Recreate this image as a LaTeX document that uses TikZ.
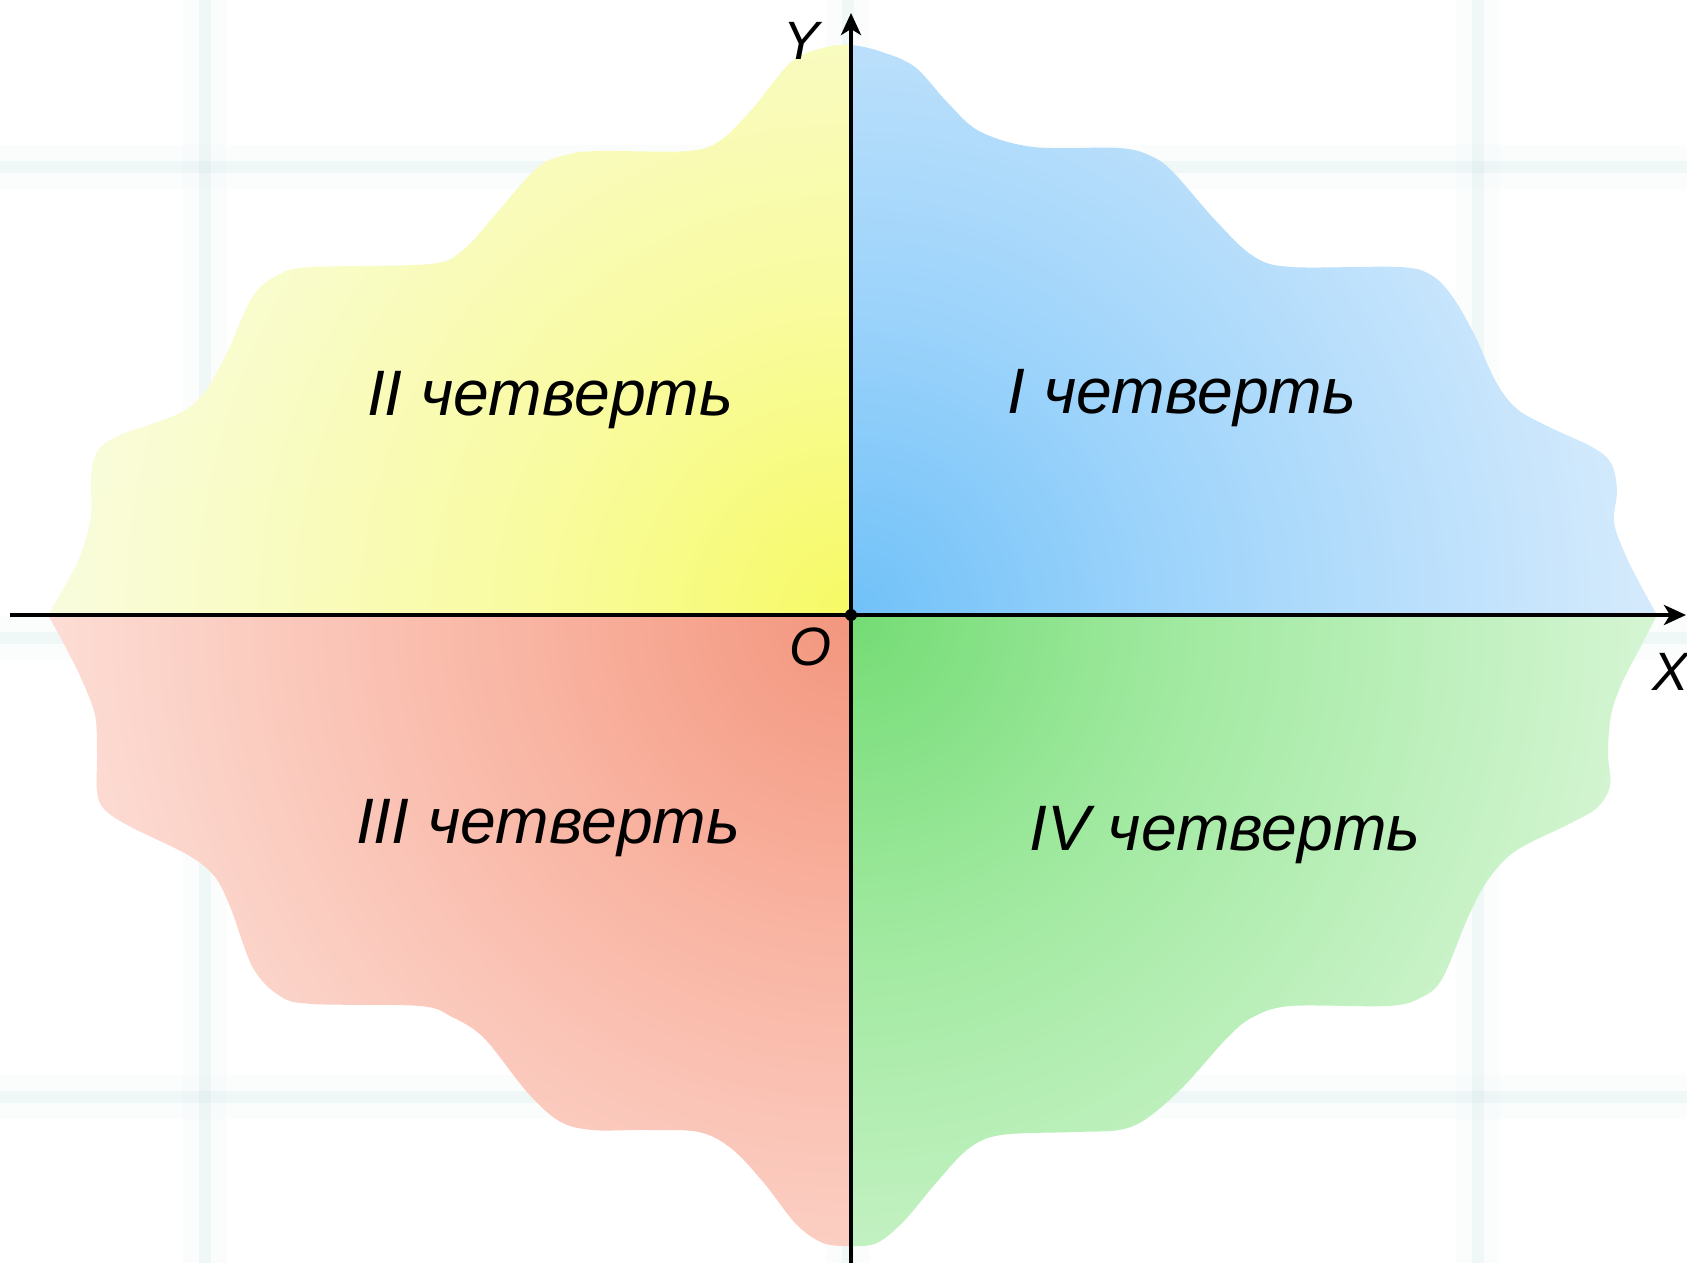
\documentclass[tikz,border=0pt]{standalone}
\usepackage{fontspec}
\setmainfont{Liberation Sans}
\usetikzlibrary{arrows.meta}
\definecolor{bIn}{RGB}{112,193,248}
\definecolor{bMid}{RGB}{158,212,251}
\definecolor{bOut}{RGB}{212,234,252}
\definecolor{yIn}{RGB}{246,250,100}
\definecolor{yMid}{RGB}{249,251,160}
\definecolor{yOut}{RGB}{249,252,220}
\definecolor{rIn}{RGB}{243,150,126}
\definecolor{rMid}{RGB}{249,180,162}
\definecolor{rOut}{RGB}{252,220,212}
\definecolor{gIn}{RGB}{116,220,116}
\definecolor{gMid}{RGB}{160,233,160}
\definecolor{gOut}{RGB}{212,245,210}
\definecolor{gridc}{RGB}{205,228,230}
\pgfdeclareradialshading{qI}{\pgfpoint{0bp}{0bp}}{color(0bp)=(bIn); color(9bp)=(bMid); color(22bp)=(bOut); color(50bp)=(bOut)}
\pgfdeclareradialshading{qII}{\pgfpoint{0bp}{0bp}}{color(0bp)=(yIn); color(9bp)=(yMid); color(22bp)=(yOut); color(50bp)=(yOut)}
\pgfdeclareradialshading{qIII}{\pgfpoint{0bp}{0bp}}{color(0bp)=(rIn); color(9bp)=(rMid); color(22bp)=(rOut); color(50bp)=(rOut)}
\pgfdeclareradialshading{qIV}{\pgfpoint{0bp}{0bp}}{color(0bp)=(gIn); color(9bp)=(gMid); color(22bp)=(gOut); color(50bp)=(gOut)}
\tikzset{
  gridline/.style={gridc, line width=6, opacity=0.22},
  gridhalo/.style={gridc, line width=22, opacity=0.07},
  axisline/.style={line width=2pt, -{Stealth[length=11pt,width=10pt,inset=3pt]}},
  qlabel/.style={font=\fontsize{32.1}{36}\selectfont\itshape, anchor=base, inner sep=0},
  alabel/.style={font=\fontsize{27}{30}\selectfont\itshape, anchor=base, inner sep=0}
}
\begin{document}
\begin{tikzpicture}[x=0.5pt,y=-0.5pt]
\useasboundingbox (0,0) rectangle (1687,1263);
\fill[white] (0,0) rectangle (1687,1263);
% background grid
\foreach \gx in {205,848,1478}{
  \draw[gridhalo] (\gx,0) -- (\gx,1263);
  \draw[gridline] (\gx,0) -- (\gx,1263);
}
\foreach \gy in {167,638,1097}{
  \draw[gridhalo] (0,\gy) -- (1687,\gy);
  \draw[gridline] (0,\gy) -- (1687,\gy);
}
% blob outline
\path[save path=\blobp]
  plot[smooth,tension=0.55] coordinates {(48,615) (65,586) (81,554) (91,516) (91,479) (97,452) (118,436) (178,414) (204,393) (226,355) (253,296) (280,274) (312,267) (430,264) (463,250) (495,215) (538,167) (570,154) (602,151) (689,151) (721,140) (753,108) (791,62) (823,48) (851,45) (882,52) (915,67) (947,102) (979,131) (1033,147) (1119,148) (1151,156) (1173,172) (1216,221) (1253,256) (1291,267) (1399,267) (1431,275) (1452,296) (1474,334) (1496,382) (1517,409) (1549,427) (1592,447) (1611,463) (1617,490) (1614,522) (1625,554) (1641,586) (1657,615)}
  -- plot[smooth,tension=0.55] coordinates {(1657,615) (1641,646) (1622,683) (1611,715) (1608,753) (1610,785) (1598,807) (1571,823) (1517,850) (1490,877) (1469,915) (1442,979) (1420,998) (1388,1006) (1291,1006) (1253,1017) (1227,1038) (1183,1087) (1146,1119) (1119,1130) (1076,1132) (1001,1135) (968,1149) (936,1183) (904,1221) (877,1243) (851,1246) (823,1243) (796,1224) (764,1183) (732,1149) (699,1132) (646,1130) (592,1130) (559,1121) (527,1092) (484,1038) (452,1017) (420,1006) (312,1004) (280,996) (253,968) (231,909) (215,877) (188,855) (129,826) (104,809) (97,791) (97,753) (95,715) (81,678) (65,646) (48,615)}
  -- cycle;
\foreach \sh/\xa/\ya/\xb/\yb in {qI/851/0/1687/615, qII/0/0/851/615, qIII/0/615/851/1263, qIV/851/615/1687/1263}{
  \begin{scope}
    \clip[use path=\blobp];
    \clip (\xa,\ya) rectangle (\xb,\yb);
    \shade[shading=\sh] (851,615) circle[radius=900];
  \end{scope}
}
% axes
\coordinate (O) at (851,615);
\coordinate (xs) at (10,615);
\coordinate (xe) at (1686,615);
\coordinate (ys) at (851,1263);
\coordinate (ye) at (851,13);
\draw[axisline] (xs) -- (xe);
\draw[axisline] (ys) -- (ye);
\fill (O) circle[radius=6];
% labels
\node[alabel] (ly) at (802,60) {Y};
\node[alabel] (lx) at (1670,690) {X};
\node[alabel] (lo) at (810,665) {O};
\node[qlabel] (q1) at (1182,413) {I четверть};
\node[qlabel] (q2) at (550,415) {II четверть};
\node[qlabel] (q3) at (548,843) {III четверть};
\node[qlabel] (q4) at (1225,850) {IV четверть};
\end{tikzpicture}
\end{document}
